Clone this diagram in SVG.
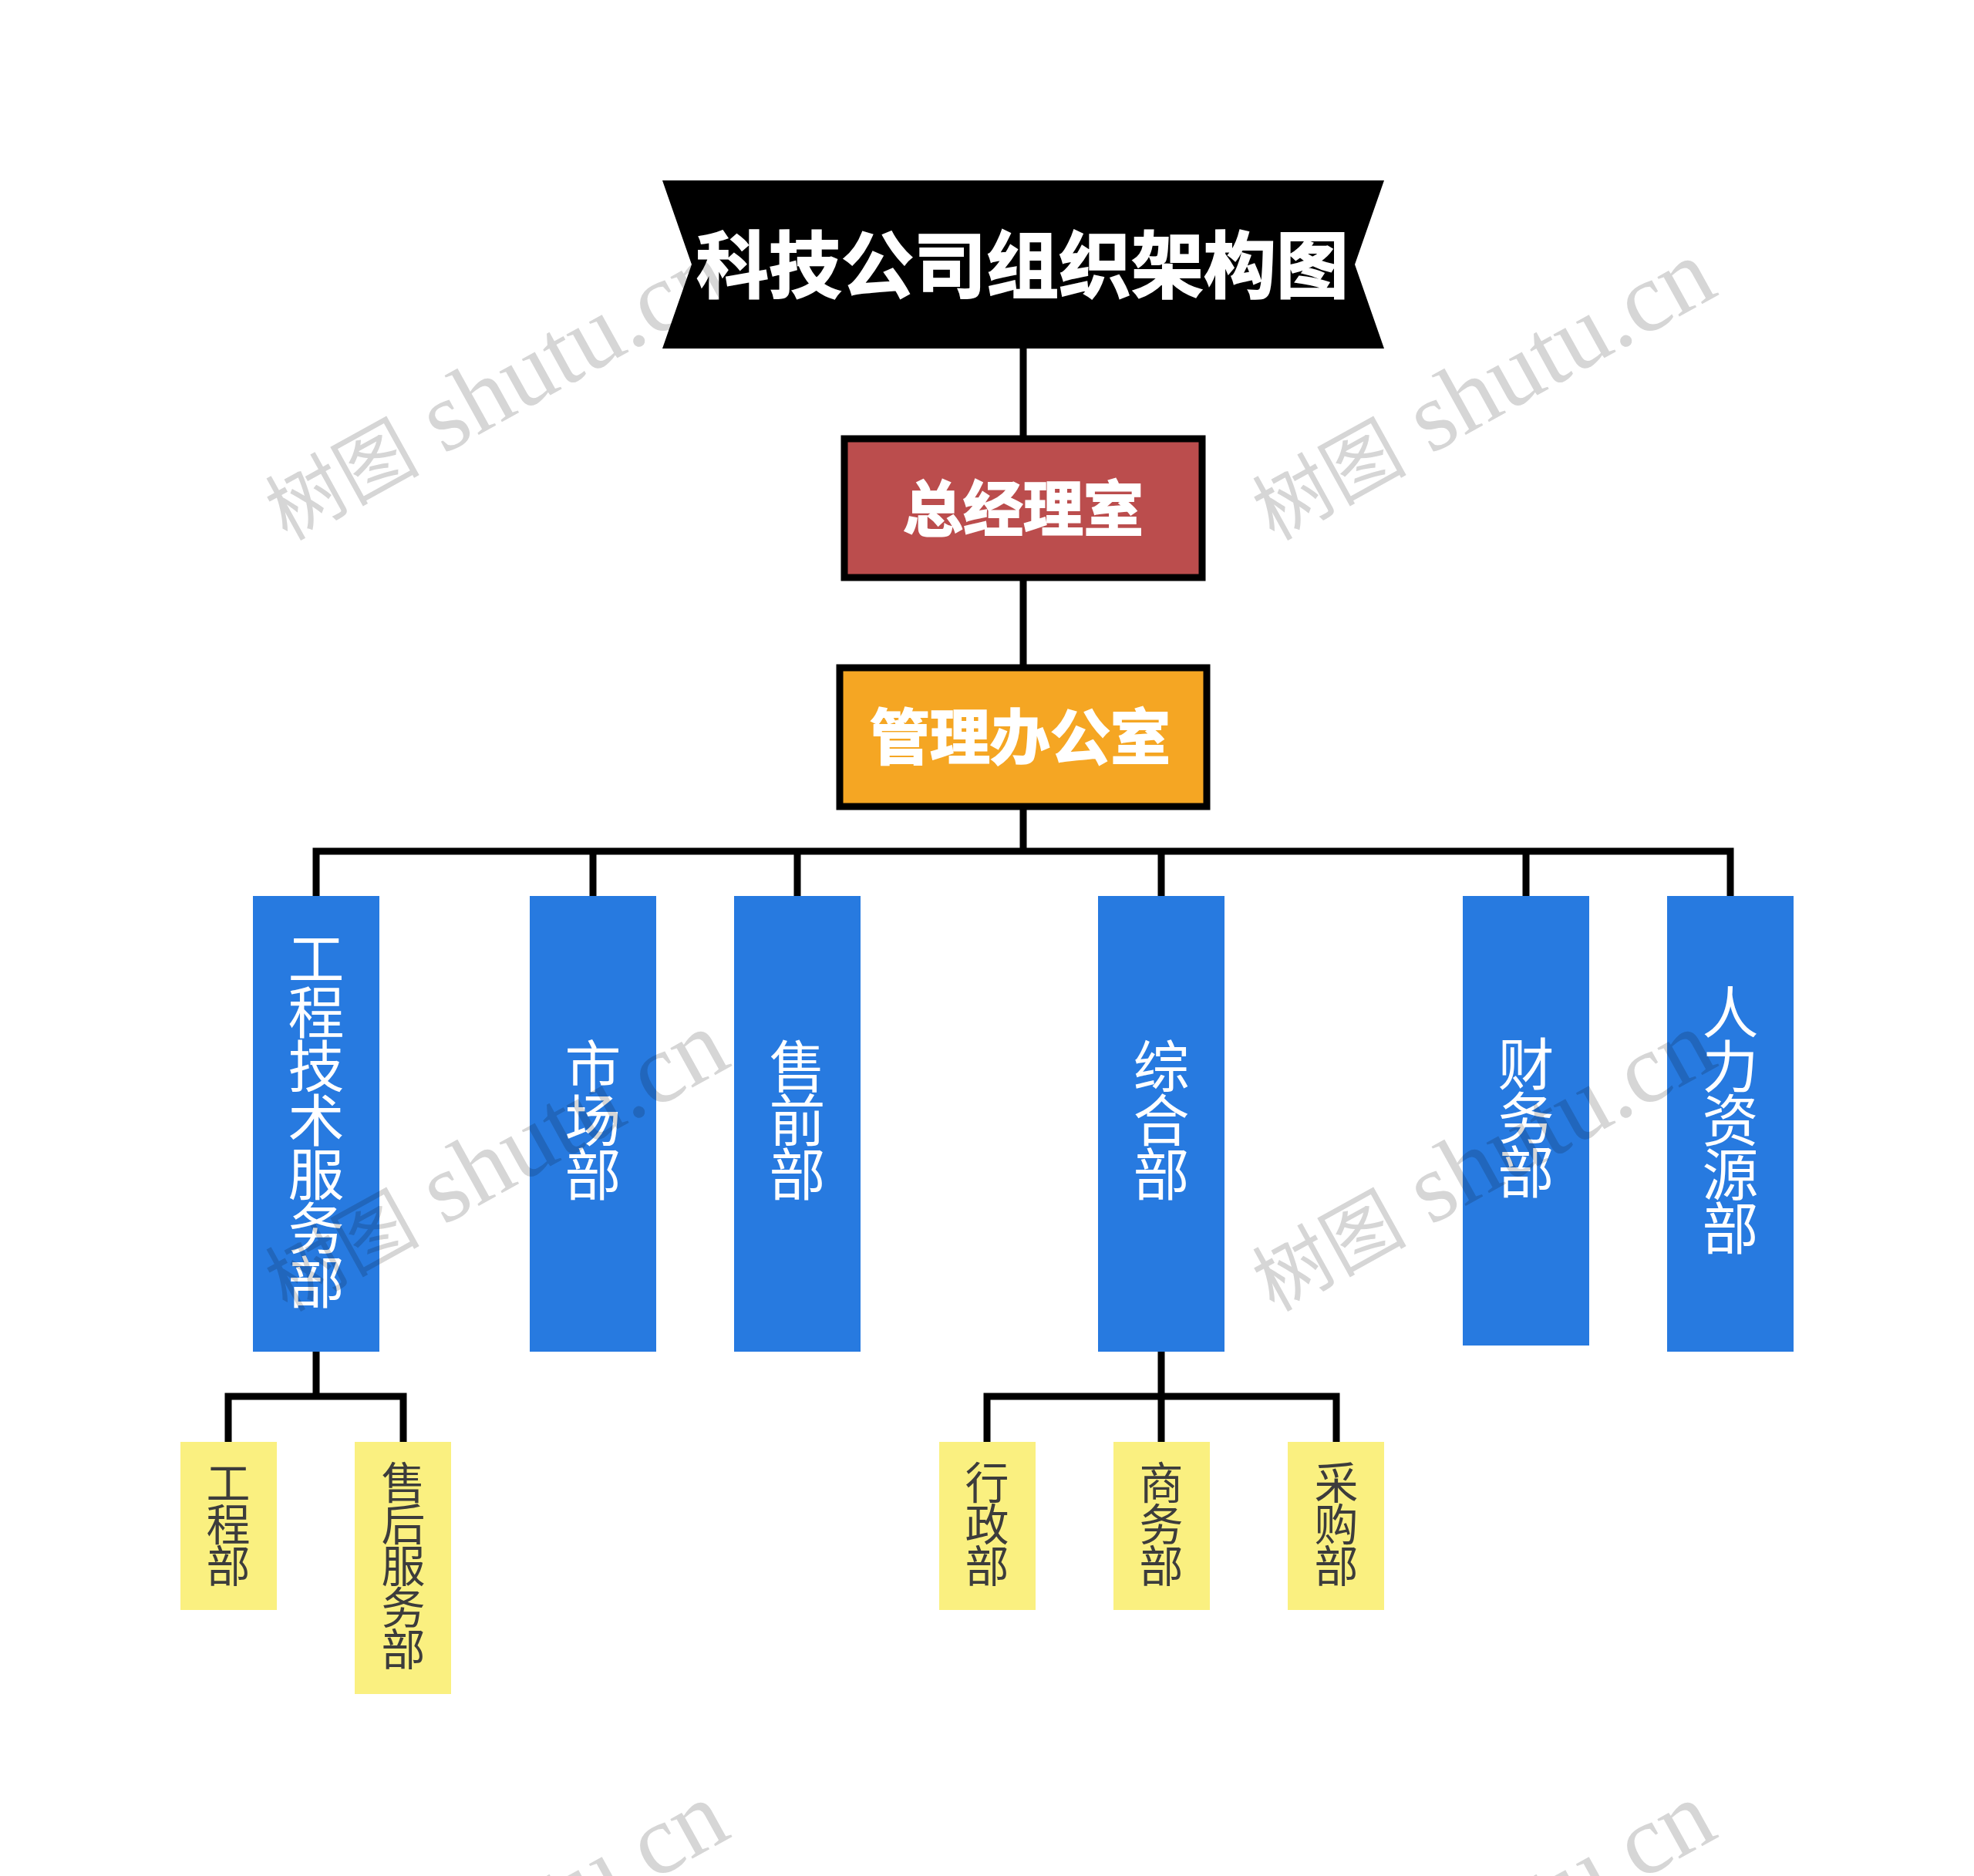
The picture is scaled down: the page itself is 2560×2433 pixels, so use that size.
<svg xmlns="http://www.w3.org/2000/svg" width="2560" height="2433" viewBox="0 0 2560 2433">
<style>
text{font-family:"Noto Sans CJK SC","Noto Sans",sans-serif}
.h{text-anchor:middle;dominant-baseline:central;fill:#fff;font-weight:700;stroke:#fff;stroke-width:2}
.b{fill:#277ae0}
.y{fill:#faf080}
.n{stroke:#000;stroke-width:9}
.vb{writing-mode:vertical-rl;text-anchor:middle;fill:#fff;font-size:73px;letter-spacing:-3px}
.vy{writing-mode:vertical-rl;text-anchor:middle;fill:#3c3c3c;font-size:57px;letter-spacing:-3px}
.c{fill:none;stroke:#000;stroke-width:9}
.w{fill:#d6d6d6;font-family:"Liberation Serif","Noto Sans CJK SC",serif;font-size:128px;mix-blend-mode:multiply}
.wc{font-size:100px;font-family:"Noto Sans CJK SC",serif}
</style>
<rect width="2560" height="2433" fill="#fff"/>
<g id="connectors" class="c">
<path d="M1327 452V569M1327 749V866M1327 1046V1104"/>
<path d="M410 1163V1104H2244V1163M769 1104V1163M1034 1104V1163M1506 1104V1163M1979 1104V1163"/>
<path d="M410 1753V1811M296 1871V1811H523V1871"/>
<path d="M1506 1753V1871M1280 1871V1811H1733V1871"/>
</g>
<g id="title"><polygon points="859,234 1795,234 1757,343 1795,452 859,452 897,343" fill="#000"/><text class="h" x="1326" y="338" font-size="94">科技公司组织架构图</text></g>
<g id="gm"><rect class="n" x="1095" y="569" width="464" height="180" fill="#bb4d4d"/><text class="h" x="1327" y="655" font-size="78">总经理室</text></g>
<g id="admin"><rect class="n" x="1089" y="866" width="476" height="180" fill="#f5a623"/><text class="h" x="1323" y="951" font-size="78">管理办公室</text></g>
<g id="d1"><rect class="b" x="328" y="1162" width="164" height="591"/><text class="vb" x="410" y="1451">工程技术服务部</text></g>
<g id="d2"><rect class="b" x="687" y="1162" width="164" height="591"/><text class="vb" x="769" y="1451">市场部</text></g>
<g id="d3"><rect class="b" x="952" y="1162" width="164" height="591"/><text class="vb" x="1034" y="1451">售前部</text></g>
<g id="d4"><rect class="b" x="1424" y="1162" width="164" height="591"/><text class="vb" x="1506" y="1451">综合部</text></g>
<g id="d5"><rect class="b" x="1897" y="1162" width="164" height="583"/><text class="vb" x="1979" y="1448">财务部</text></g>
<g id="d6"><rect class="b" x="2162" y="1162" width="164" height="591"/><text class="vb" x="2244" y="1451">人力资源部</text></g>
<g id="s1"><rect class="y" x="234" y="1870" width="125" height="218"/><text class="vy" x="296" y="1975">工程部</text></g>
<g id="s2"><rect class="y" x="460" y="1870" width="125" height="327"/><text class="vy" x="523" y="2029">售后服务部</text></g>
<g id="s3"><rect class="y" x="1218" y="1870" width="125" height="218"/><text class="vy" x="1280" y="1975">行政部</text></g>
<g id="s4"><rect class="y" x="1444" y="1870" width="125" height="218"/><text class="vy" x="1506" y="1975">商务部</text></g>
<g id="s5"><rect class="y" x="1670" y="1870" width="125" height="218"/><text class="vy" x="1733" y="1975">采购部</text></g>
<g id="watermarks">
<text class="w" transform="translate(372 702) rotate(-29)"><tspan class="wc">树图</tspan> shutu.cn</text>
<text class="w" transform="translate(1652 702) rotate(-29)"><tspan class="wc">树图</tspan> shutu.cn</text>
<text class="w" transform="translate(372 1702) rotate(-29)"><tspan class="wc">树图</tspan> shutu.cn</text>
<text class="w" transform="translate(1652 1702) rotate(-29)"><tspan class="wc">树图</tspan> shutu.cn</text>
<text class="w" transform="translate(372 2702) rotate(-29)"><tspan class="wc">树图</tspan> shutu.cn</text>
<text class="w" transform="translate(1652 2702) rotate(-29)"><tspan class="wc">树图</tspan> shutu.cn</text>
</g>
</svg>
